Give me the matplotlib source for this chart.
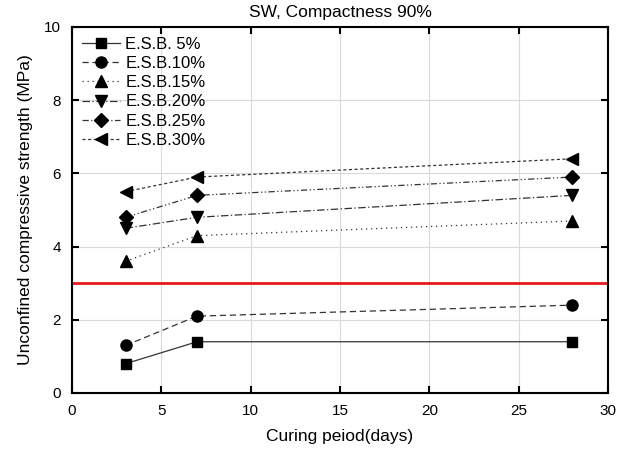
import matplotlib
matplotlib.use("Agg")
import matplotlib.pyplot as plt

plt.rcParams['font.family'] = ['Liberation Sans', 'DejaVu Sans']

days = [3, 7, 28]
labels = ['E.S.B. 5%', 'E.S.B.10%', 'E.S.B.15%', 'E.S.B.20%', 'E.S.B.25%', 'E.S.B.30%']
esb5 = [0.8, 1.4, 1.4]
esb10 = [1.3, 2.1, 2.4]
esb15 = [3.6, 4.3, 4.7]
esb20 = [4.5, 4.8, 5.4]
esb25 = [4.8, 5.4, 5.9]
esb30 = [5.5, 5.9, 6.4]
limit = 3.0

series = [esb5, esb10, esb15, esb20, esb25, esb30]
markers = ['s', 'o', '^', 'v', 'D', '<']
msizes = [7, 8, 8, 8, 7, 8]
styles = ['-', (0, (5, 3)), (0, (1, 3)), (0, (6, 2, 1, 2)), (0, (5, 2, 1, 2, 1, 2)), (0, (2.5, 2))]

fig = plt.figure(figsize=(6.28, 4.5), dpi=100)
ax = fig.add_axes([0.1146, 0.1267, 0.8535, 0.8133])

ax.axhline(limit, color='#e8191b', lw=2, zorder=2)
for s, lab, m, ms, ls in zip(series, labels, markers, msizes, styles):
    ax.plot(days, s, color='#333333', lw=0.9, linestyle=ls, marker=m, markersize=ms,
            markerfacecolor='black', markeredgecolor='black', label=lab, zorder=3)

ax.set_xlim(0, 30)
ax.set_ylim(0, 10)
ax.set_xticks([0, 5, 10, 15, 20, 25, 30])
ax.set_yticks([0, 2, 4, 6, 8, 10])
ax.grid(True, color='#d9d9d9', lw=0.8)
ax.set_axisbelow(True)
ax.tick_params(direction='in', length=5, width=1.5, top=True, right=True, labelsize=11, pad=8)
for sp in ax.spines.values():
    sp.set_linewidth(1.5)

ax.set_xlabel('Curing peiod(days)', fontsize=12.5, labelpad=8)
ax.set_ylabel('Unconfined compressive strength (MPa)', fontsize=12.5, labelpad=8)
ax.set_title('SW, Compactness 90%', fontsize=12.5, pad=7)

leg = ax.legend(loc='upper left', frameon=False, fontsize=12, handlelength=2.3,
                handletextpad=0.3, labelspacing=0.25, borderaxespad=0.2)

fig.savefig('out.png', dpi=100)
